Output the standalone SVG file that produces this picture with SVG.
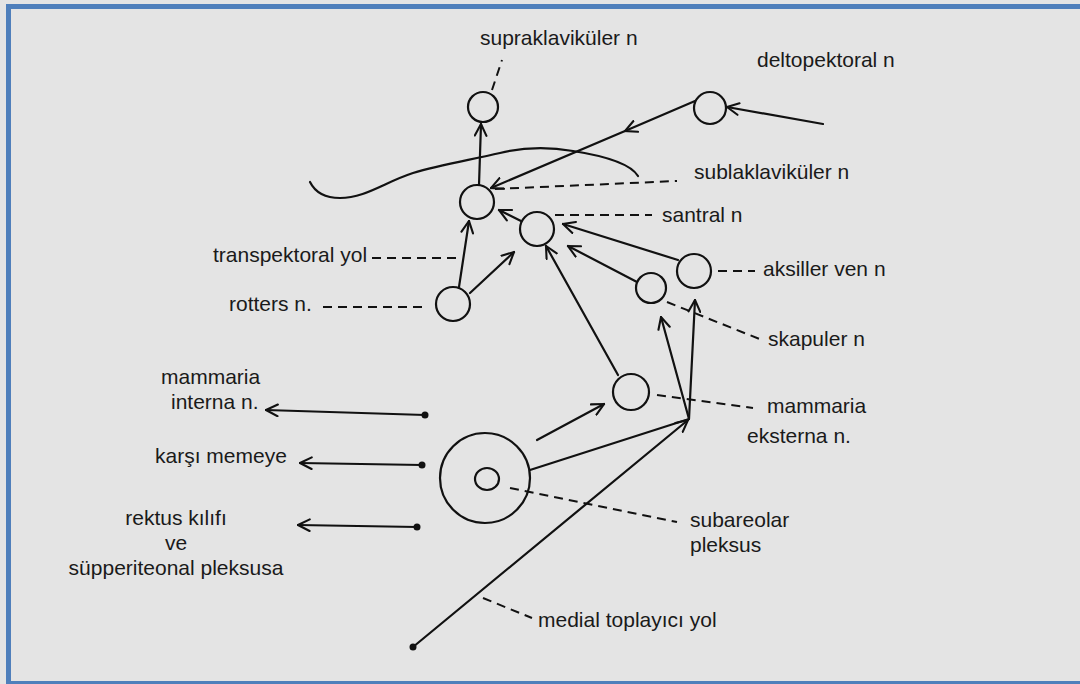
<svg xmlns="http://www.w3.org/2000/svg" width="1080" height="684" viewBox="0 0 1080 684">
<defs>
<style>
text{font-family:"Liberation Sans",Arial,sans-serif;font-size:21px;fill:#1a1a1a}
.ln{stroke:#111;stroke-width:2.2;fill:none;stroke-linecap:round}
.ds{stroke:#111;stroke-width:2;fill:none;stroke-dasharray:9 6}
.nd{stroke:#111;stroke-width:2.2;fill:none}
.dot{fill:#111}
</style>
<marker id="ah" viewBox="0 0 12 12" refX="11" refY="6" markerWidth="14" markerHeight="14" markerUnits="userSpaceOnUse" orient="auto">
<path d="M1,1 L11,6 L1,11" fill="none" stroke="#111" stroke-width="1.8" stroke-linecap="round"/>
</marker>
</defs>
<rect x="0" y="0" width="1080" height="684" fill="#e4e4e4"/>
<g id="frame" fill="#4f7fbb">
<rect x="6" y="4" width="1074" height="5"/>
<rect x="6" y="4" width="5" height="680"/>
<rect x="6" y="681" width="1074" height="3"/>
</g>
<g id="clavicle">
<path class="ln" d="M310,182 Q318,198 340,198 C365,198 385,182 413,173 C440,165 470,160 500,153 C520,148 545,146 573,151 C605,156 630,163 638,176"/>
</g>
<g id="n-supra"><circle class="nd" cx="483" cy="107" r="15"/></g>
<g id="n-subclav"><circle class="nd" cx="477" cy="202" r="17"/></g>
<g id="n-santral"><circle class="nd" cx="537" cy="229" r="17"/></g>
<g id="n-rotters"><circle class="nd" cx="453" cy="304" r="17"/></g>
<g id="n-aksiller"><circle class="nd" cx="694" cy="271" r="17"/></g>
<g id="n-skapuler"><circle class="nd" cx="651" cy="288" r="15"/></g>
<g id="n-mamext"><circle class="nd" cx="631" cy="392" r="18"/></g>
<g id="n-delto"><circle class="nd" cx="710" cy="108" r="16"/></g>
<g id="n-areola"><circle class="nd" cx="485" cy="478" r="45"/><ellipse class="nd" cx="487" cy="479" rx="12" ry="11"/></g>
<g id="connectors">
<path class="ln" d="M479,185 L481,124" marker-end="url(#ah)"/>
<path class="ln" d="M695,101 L625,131 L491,188" marker-mid="url(#ah)" marker-end="url(#ah)"/>
<path class="ln" d="M823,124 L727,107" marker-end="url(#ah)"/>
<path class="ln" d="M459,287 L469,221" marker-end="url(#ah)"/>
<path class="ln" d="M470,293 L514,252" marker-end="url(#ah)"/>
<path class="ln" d="M521,221 L499,210" marker-end="url(#ah)"/>
<path class="ln" d="M678,260 L563,224" marker-end="url(#ah)"/>
<path class="ln" d="M637,282 L568,246" marker-end="url(#ah)"/>
<path class="ln" d="M618,375 L546,246" marker-end="url(#ah)"/>
<path class="ln" d="M689,419 L695,300" marker-end="url(#ah)"/>
<path class="ln" d="M689,419 L661,317" marker-end="url(#ah)"/>
<path class="ln" d="M537,440 L604,404" marker-end="url(#ah)"/>
<path class="ln" d="M530,470 L689,419"/>
<path class="ln" d="M413,647 L688,420" marker-end="url(#ah)"/>
<path class="ln" d="M425,415 L266,410" marker-end="url(#ah)"/>
<path class="ln" d="M422,465 L300,463" marker-end="url(#ah)"/>
<path class="ln" d="M417,527 L298,525" marker-end="url(#ah)"/>
<circle class="dot" cx="425" cy="415" r="3.5"/>
<circle class="dot" cx="422" cy="465" r="3.5"/>
<circle class="dot" cx="417" cy="527" r="3.5"/>
<circle class="dot" cx="413" cy="647" r="3.5"/>
<path class="ds" d="M492,90 L502,60"/>
<path class="ds" d="M495,189 L677,181"/>
<path class="ds" d="M555,215 L652,215"/>
<path class="ds" d="M372,258 L457,258"/>
<path class="ds" d="M323,307 L427,307"/>
<path class="ds" d="M718,271 L755,271"/>
<path class="ds" d="M667,302 L762,340"/>
<path class="ds" d="M657,395 L753,408"/>
<path class="ds" d="M510,488 L677,522"/>
<path class="ds" d="M483,598 L532,618"/>
</g>
<g id="labels">
<text x="480" y="45">supraklaviküler n</text>
<text x="757" y="67">deltopektoral n</text>
<text x="694" y="179">sublaklaviküler n</text>
<text x="662" y="222">santral n</text>
<text x="213" y="262">transpektoral yol</text>
<text x="229" y="311">rotters n.</text>
<text x="763" y="276">aksiller ven n</text>
<text x="768" y="346">skapuler n</text>
<text x="767" y="413">mammaria</text>
<text x="747" y="443">eksterna n.</text>
<text x="161" y="384">mammaria</text>
<text x="171" y="409">interna n.</text>
<text x="155" y="463">karşı memeye</text>
<text x="176" y="525" text-anchor="middle">rektus kılıfı</text>
<text x="176" y="550" text-anchor="middle">ve</text>
<text x="176" y="575" text-anchor="middle">süpperiteonal pleksusa</text>
<text x="690" y="527">subareolar</text>
<text x="690" y="552">pleksus</text>
<text x="538" y="627">medial toplayıcı yol</text>
</g>
</svg>
